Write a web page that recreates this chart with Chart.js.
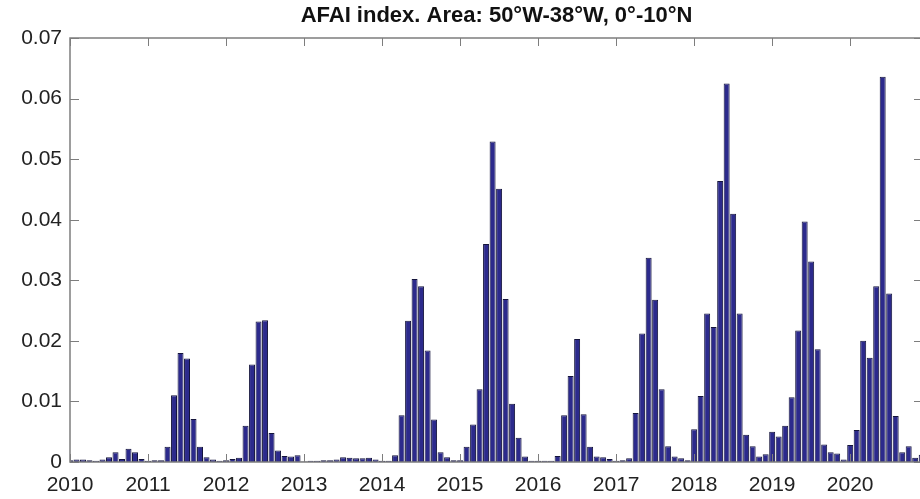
<!DOCTYPE html>
<html><head><meta charset="utf-8">
<script src="https://cdn.jsdelivr.net/npm/chart.js@4.4.0/dist/chart.umd.min.js"></script>
<style>
html,body{margin:0;padding:0;background:#fff;overflow:hidden;width:920px;height:499px}
#wrap{position:relative;width:926px;height:499px}
</style></head><body>
<div id="wrap"><canvas id="c"></canvas></div>
<script>
const titleText = 'AFAI index. Area: 50°W-38°W, 0°-10°N';
const yearLabels = ['2010','2011','2012','2013','2014','2015','2016','2017','2018','2019','2020'];
const yTickValues = [0,0.01,0.02,0.03,0.04,0.05,0.06,0.07];
const yTickLabels = ['0','0.01','0.02','0.03','0.04','0.05','0.06','0.07'];

// Monthly AFAI values, Jan..Dec
const afai2010 = [0.0003,0.0004,0.0004,0.0003,0.0002,0.0004,0.0008,0.0016,0.0005,0.0022,0.0016,0.0005];
const afai2011 = [0.0002,0.0003,0.0003,0.0025,0.0110,0.0180,0.0171,0.0071,0.0025,0.0008,0.0004,0.0002];
const afai2012 = [0.0003,0.0005,0.0007,0.0060,0.0161,0.0232,0.0234,0.0048,0.0019,0.0010,0.0009,0.0011];
const afai2013 = [0.0001,0.0002,0.0002,0.0003,0.0003,0.0004,0.0008,0.0007,0.0006,0.0006,0.0007,0.0004];
const afai2014 = [0.0002,0.0002,0.0011,0.0077,0.0233,0.0302,0.0290,0.0184,0.0070,0.0016,0.0008,0.0003];
const afai2015 = [0.0003,0.0025,0.0062,0.0120,0.0360,0.0529,0.0451,0.0269,0.0096,0.0040,0.0009,0.0002];
const afai2016 = [0.0002,0.0002,0.0002,0.0010,0.0077,0.0142,0.0203,0.0079,0.0025,0.0009,0.0008,0.0005];
const afai2017 = [0.0002,0.0003,0.0006,0.0081,0.0212,0.0337,0.0268,0.0120,0.0026,0.0009,0.0006,0.0003];
const afai2018 = [0.0054,0.0109,0.0245,0.0223,0.0464,0.0625,0.0410,0.0245,0.0045,0.0026,0.0009,0.0013];
const afai2019 = [0.0050,0.0042,0.0060,0.0107,0.0217,0.0397,0.0331,0.0186,0.0029,0.0016,0.0014,0.0004];
const afai2020 = [0.0028,0.0053,0.0200,0.0172,0.0290,0.0636,0.0278,0.0076,0.0016,0.0026,0.0007,0.0012];

const values = [].concat(afai2010,afai2011,afai2012,afai2013,afai2014,afai2015,afai2016,afai2017,afai2018,afai2019,afai2020);
const points = values.map((v,i)=>({x:i,y:v}));

const FONT = "'Liberation Sans', Arial, Helvetica, sans-serif";

const boxTicks = {
  id:'boxTicks',
  afterDatasetsDraw(chart){
    const {ctx, chartArea:a, scales:{x,y}} = chart;
    ctx.save();
    ctx.strokeStyle = '#7d7d7d';
    ctx.lineWidth = 1;
    ctx.beginPath();
    y.ticks.forEach(t=>{
      const py = Math.round(y.getPixelForValue(t.value))+0.5;
      ctx.moveTo(a.left,py); ctx.lineTo(a.left+9,py);
      ctx.moveTo(a.right,py); ctx.lineTo(a.right-9,py);
    });
    x.ticks.forEach(t=>{
      const px = Math.round(x.getPixelForValue(t.value))+0.5;
      ctx.moveTo(px,a.top); ctx.lineTo(px,a.top+8);
      ctx.moveTo(px,a.bottom); ctx.lineTo(px,a.bottom-8);
    });
    ctx.stroke();
    ctx.lineWidth = 1.5;
    ctx.strokeRect(a.left, a.top, a.right-a.left, a.bottom-a.top);
    ctx.restore();
  }
};

new Chart(document.getElementById('c'), {
  type:'bar',
  data:{datasets:[{
    data: points,
    backgroundColor:'#2c2a8c',
    borderColor:'#15153c',
    borderWidth:1,
    barPercentage:0.92,
    categoryPercentage:1
  }]},
  options:{
    responsive:true,
    maintainAspectRatio:false,
    animation:false,
    devicePixelRatio:1,
    layout:{padding:{left:0,right:3,top:0,bottom:0}},
    plugins:{
      legend:{display:false},
      tooltip:{enabled:false},
      title:{display:true,text:titleText,fullSize:false,color:'#111',
        font:{family:FONT,size:22,weight:'bold',lineHeight:1.0},padding:{top:5,bottom:11}}
    },
    scales:{
      x:{
        type:'linear', min:0, max:131.2, offset:false,
        afterBuildTicks:s=>{ s.ticks = yearLabels.map((_,k)=>({value:k*12})); },
        afterFit:s=>{ s.height = 37; },
        grid:{display:false,drawTicks:false,offset:false},
        border:{display:false},
        ticks:{autoSkip:false,maxRotation:0,padding:11,color:'#222',
          font:{family:FONT,size:21},
          callback:(v)=>yearLabels[Math.round(v/12)]}
      },
      y:{
        min:0, max:0.07,
        afterBuildTicks:s=>{ s.ticks = yTickValues.map(v=>({value:v})); },
        afterFit:s=>{ s.width = 70; },
        grid:{display:false,drawTicks:false},
        border:{display:false},
        ticks:{padding:8,color:'#222',font:{family:FONT,size:21},
          callback:(v,i)=>yTickLabels[i]}
      }
    }
  },
  plugins:[boxTicks]
});
</script>
</body></html>
